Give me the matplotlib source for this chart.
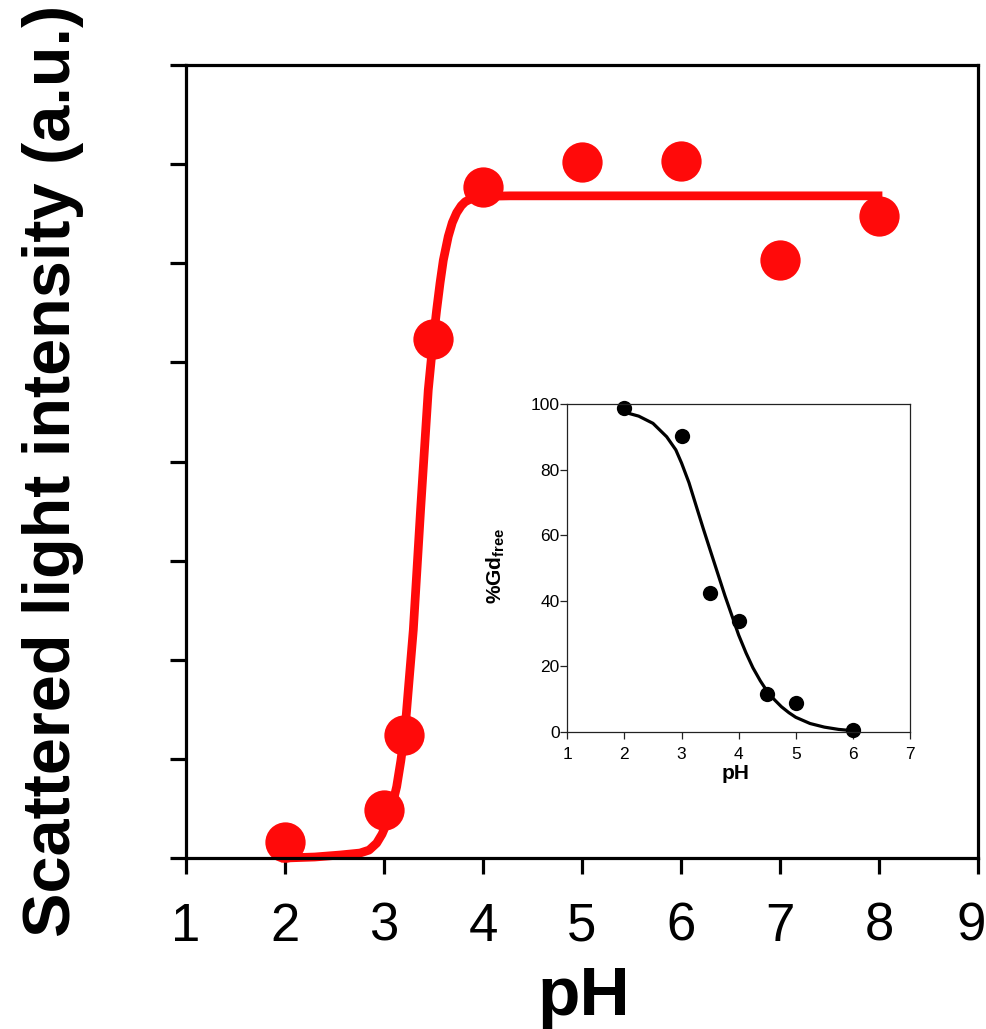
import matplotlib
matplotlib.use("Agg")
import matplotlib.pyplot as plt
from matplotlib.transforms import ScaledTranslation

plt.rcParams['font.family'] = ['Liberation Sans', 'DejaVu Sans']
plt.rcParams['mathtext.fontset'] = 'custom'
plt.rcParams['mathtext.rm'] = 'Liberation Sans'
plt.rcParams['mathtext.bf'] = 'Liberation Sans:bold'

# Main chart data (scattered light intensity, arbitrary units)
ph_main = [2.0, 3.0, 3.2, 3.5, 4.0, 5.0, 6.0, 7.0, 8.0]
intensity = [0.16, 0.48, 1.24, 5.24, 6.77, 7.02, 7.03, 6.03, 6.48]
fit_ph_main = [2.0, 2.3, 2.556, 2.758, 2.85, 2.926, 2.98, 3.027, 3.08, 3.128, 3.17,
               3.212, 3.25, 3.296, 3.37, 3.447, 3.49, 3.532, 3.566, 3.599, 3.649,
               3.69, 3.734, 3.78, 3.82, 3.869, 3.93, 4.0, 4.273, 7.99]
fit_intensity = [0.0, 0.01, 0.03, 0.05, 0.08, 0.15, 0.24, 0.35, 0.52, 0.72, 0.98,
                 1.29, 1.75, 2.30, 3.52, 4.72, 5.16, 5.53, 5.80, 6.03, 6.27,
                 6.41, 6.51, 6.58, 6.62, 6.645, 6.665, 6.675, 6.68, 6.68]
main_xticks = [1, 2, 3, 4, 5, 6, 7, 8, 9]
main_yticks = [0, 1, 2, 3, 4, 5, 6, 7, 8]

# Inset data (%Gd free)
ph_inset = [2.0, 3.0, 3.5, 4.0, 4.5, 5.0, 6.0]
gd_free = [98.7, 90.3, 42.2, 33.9, 11.5, 8.7, 0.5]
fit_ph_inset = [2.0, 2.25, 2.5, 2.74, 2.9, 3.0, 3.13, 3.26, 3.38, 3.5, 3.63, 3.76,
                3.88, 4.0, 4.13, 4.25, 4.38, 4.5, 4.63, 4.75, 4.88, 5.0, 5.25,
                5.5, 5.75, 6.0]
fit_gd = [97.5, 96.3, 94.1, 90.0, 86.0, 82.0, 76.0, 68.7, 62.0, 55.5, 48.5, 41.5,
          35.5, 29.5, 24.0, 19.5, 15.5, 12.3, 9.7, 7.6, 5.8, 4.4, 2.5,
          1.4, 0.7, 0.3]
inset_xticks = [1, 2, 3, 4, 5, 6, 7]
inset_yticks = [0, 20, 40, 60, 80, 100]

W, H = 987, 1029
fig = plt.figure(figsize=(W / 100, H / 100), dpi=100)

ax = fig.add_axes([186 / W, 1 - 858 / H, 792 / W, 793 / H])
ax.plot(fit_ph_main, fit_intensity, color='#ff0a0a', lw=6.3, clip_on=False,
        solid_joinstyle='round', zorder=2)
ax.plot(ph_main, intensity, 'o', color='#ff0a0a', ms=29, mec='none', clip_on=False, zorder=2)
ax.set_xlim(1, 9)
ax.set_ylim(0, 8)
ax.set_xticks(main_xticks)
ax.set_yticks(main_yticks)
ax.set_yticklabels([])
for s in ax.spines.values():
    s.set_linewidth(2.3)
    s.set_zorder(3)
ax.tick_params(axis='both', direction='out', length=11.5, width=2.3, labelsize=38, pad=20)
ax.tick_params(axis='y', pad=4)
last = ax.get_xticklabels()[-1]
last.set_transform(last.get_transform() + ScaledTranslation(-7 / 100, 0, fig.dpi_scale_trans))

fig.text(22 / W, 1 - 471 / H, 'Scattered light intensity (a.u.)', rotation=90,
         ha='left', va='center', fontsize=48, fontweight='bold')
fig.text(584 / W, 1 - 1015 / H, 'pH', ha='center', va='baseline',
         fontsize=50, fontweight='bold')

# Inset
ia = fig.add_axes([567.3 / W, 1 - 731.7 / H, 342.7 / W, 327.7 / H])
ia.set_facecolor('white')
ia.plot(fit_ph_inset, fit_gd, color='black', lw=2.3, clip_on=False, zorder=2,
        solid_joinstyle='round')
ia.plot(ph_inset, gd_free, 'o', color='black', ms=11, mec='none', clip_on=False, zorder=2)
ia.set_xlim(1, 7)
ia.set_ylim(0, 100)
ia.set_xticks(inset_xticks)
ia.set_yticks(inset_yticks)
for s in ia.spines.values():
    s.set_linewidth(0.9)
    s.set_color('#222222')
    s.set_zorder(3)
ia.tick_params(axis='both', direction='out', length=5, width=0.9, labelsize=12.5, color='#222222')
ia.tick_params(axis='x', pad=6)
ia.tick_params(axis='y', pad=0.5)

fig.text(736 / W, 1 - 779 / H, 'pH', ha='center', va='baseline', fontsize=15, fontweight='bold')
fig.text(484 / W, 1 - 566 / H, r'$\mathbf{\%Gd}_{\mathbf{free}}$', rotation=90,
         ha='left', va='center', fontsize=15)

fig.savefig('out.png', dpi=100)
